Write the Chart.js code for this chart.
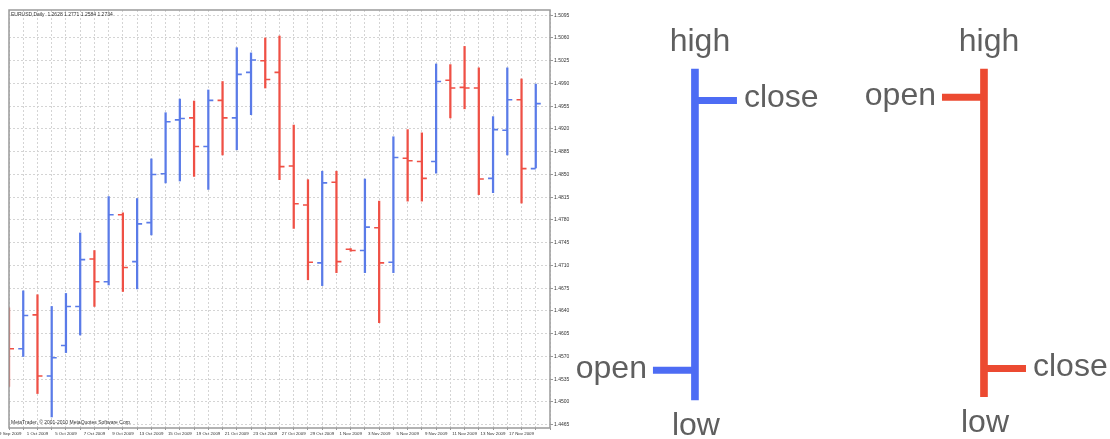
<!DOCTYPE html>
<html>
<head>
<meta charset="utf-8">
<script src="https://cdn.jsdelivr.net/npm/chart.js@4.4.0/dist/chart.umd.min.js"></script>
<style>
  html, body { margin: 0; padding: 0; background: #fff; }
  #wrap { position: relative; width: 1110px; height: 439px; overflow: hidden; background: #fff; }
  #bars { position: absolute; left: 0; top: 0; }
  #legend { position: absolute; left: 575px; top: 0; }
</style>
</head>
<body>
<div id="wrap">
  <canvas id="bars" width="575" height="439"></canvas>
  <canvas id="legend" width="535" height="439"></canvas>
</div>
<script>
// EURUSD daily bars
var dates = ['29 Sep 2009', '30 Sep 2009', '1 Oct 2009', '2 Oct 2009', '5 Oct 2009', '6 Oct 2009',
  '7 Oct 2009', '8 Oct 2009', '9 Oct 2009', '12 Oct 2009', '13 Oct 2009', '14 Oct 2009',
  '15 Oct 2009', '16 Oct 2009', '19 Oct 2009', '20 Oct 2009', '21 Oct 2009', '22 Oct 2009',
  '23 Oct 2009', '26 Oct 2009', '27 Oct 2009', '28 Oct 2009', '29 Oct 2009', '30 Oct 2009',
  '1 Nov 2009', '2 Nov 2009', '3 Nov 2009', '4 Nov 2009', '5 Nov 2009', '6 Nov 2009',
  '9 Nov 2009', '10 Nov 2009', '11 Nov 2009', '12 Nov 2009', '13 Nov 2009', '16 Nov 2009',
  '17 Nov 2009', '18 Nov 2009'];
var opens = [1.4630, 1.4582, 1.4634, 1.4540, 1.4587, 1.4647, 1.4720, 1.4685, 1.4788, 1.4716,
  1.4776, 1.4851, 1.4934, 1.4937, 1.4893, 1.4964, 1.4937, 1.5007, 1.5025, 1.5007,
  1.4863, 1.4803, 1.4714, 1.4838, 1.4735, 1.4733, 1.4768, 1.4715, 1.4875, 1.4870,
  1.4870, 1.4995, 1.4984, 1.4983, 1.4844, 1.4918, 1.4965, 1.4859];
var highs = [1.4645, 1.4671, 1.4665, 1.4647, 1.4667, 1.4760, 1.4733, 1.4816, 1.4791, 1.4813,
  1.4874, 1.4945, 1.4966, 1.4963, 1.4980, 1.4993, 1.5045, 1.5037, 1.5060, 1.5063,
  1.4926, 1.4842, 1.4855, 1.4855, 1.4736, 1.4843, 1.4809, 1.4908, 1.4919, 1.4914,
  1.5020, 1.5019, 1.5047, 1.5014, 1.4939, 1.5014, 1.4997, 1.4989];
var lows = [1.4524, 1.4570, 1.4513, 1.4477, 1.4576, 1.4603, 1.4647, 1.4680, 1.4670, 1.4674,
  1.4757, 1.4837, 1.4840, 1.4847, 1.4827, 1.4880, 1.4888, 1.4942, 1.4983, 1.4842,
  1.4767, 1.4688, 1.4679, 1.4699, 1.4732, 1.4699, 1.4622, 1.4699, 1.4809, 1.4809,
  1.4852, 1.4937, 1.4951, 1.4819, 1.4822, 1.4880, 1.4806, 1.4860];
var closes = [1.4582, 1.4633, 1.4540, 1.4568, 1.4647, 1.4719, 1.4685, 1.4788, 1.4707, 1.4774,
  1.4850, 1.4931, 1.4936, 1.4893, 1.4964, 1.4937, 1.5004, 1.5026, 1.4996, 1.4862,
  1.4805, 1.4715, 1.4837, 1.4716, 1.4733, 1.4769, 1.4714, 1.4876, 1.4871, 1.4844,
  1.4993, 1.4983, 1.4983, 1.4843, 1.4919, 1.4965, 1.4859, 1.4959];
var priceTicks = [1.4465, 1.4500, 1.4535, 1.4570, 1.4605, 1.4640, 1.4675, 1.4710, 1.4745,
  1.4780, 1.4815, 1.4850, 1.4885, 1.4920, 1.4955, 1.4990, 1.5025, 1.5060, 1.5095];

// the explanation bars on the right (arbitrary units)
var legendKinds = ['bull', 'bear'];
var legendOpen = [9, 91.5];
var legendHigh = [100, 100];
var legendLow = [0, 1];
var legendClose = [90.5, 9.5];

var upColor = '#5a7be8';
var downColor = '#ef5045';
var upColorBig = '#4d6cf4';
var downColorBig = '#ec4a31';

function barColors(o, c, up, down) {
  return o.map(function(v, i) { return c[i] >= v ? up : down; });
}

// open tick to the left, close tick to the right
function ohlcTicks(o, c, len, width, up, down) {
  return {
    id: 'ohlcTicks',
    afterDatasetsDraw: function(chart) {
      var ctx = chart.ctx, xs = chart.scales.x, ys = chart.scales.y, a = chart.chartArea;
      ctx.save();
      ctx.beginPath();
      ctx.rect(a.left, a.top, a.right - a.left, a.bottom - a.top);
      ctx.clip();
      ctx.lineWidth = width;
      ctx.lineCap = 'butt';
      for (var i = 0; i < o.length; i++) {
        var x = xs.getPixelForValue(i);
        var yo = ys.getPixelForValue(o[i]);
        var yc = ys.getPixelForValue(c[i]);
        ctx.strokeStyle = c[i] >= o[i] ? up : down;
        ctx.beginPath();
        ctx.moveTo(x - len, yo); ctx.lineTo(x, yo);
        ctx.moveTo(x, yc); ctx.lineTo(x + len, yc);
        ctx.stroke();
      }
      ctx.restore();
    }
  };
}

var frame = {
  id: 'frame',
  afterDraw: function(chart) {
    var ctx = chart.ctx, a = chart.chartArea;
    ctx.save();
    ctx.strokeStyle = '#9a9a9a';
    ctx.lineWidth = 1.5;
    ctx.strokeRect(a.left, a.top, a.right - a.left, a.bottom - a.top);
    ctx.fillStyle = '#333';
    ctx.font = '5px "Liberation Sans", Arial, sans-serif';
    ctx.textBaseline = 'middle';
    ctx.fillText('EURUSD,Daily  1.2628 1.2771 1.2584 1.2734', a.left + 2, a.top + 5);
    ctx.fillText('MetaTrader, \u00a9 2001-2010 MetaQuotes Software Corp.', a.left + 2, a.bottom - 5);
    ctx.restore();
  }
};

var smallFont = { family: '"Liberation Sans", Arial, sans-serif', size: 5 };

new Chart(document.getElementById('bars').getContext('2d'), {
  type: 'bar',
  data: {
    labels: dates.concat(['']),
    datasets: [{
      data: lows.map(function(l, i) { return [l, highs[i]]; }),
      backgroundColor: barColors(opens, closes, upColor, downColor),
      barThickness: 1.6,
      borderWidth: 0
    }]
  },
  options: {
    responsive: false,
    animation: false,
    layout: { padding: { left: 9, top: 10, right: 0, bottom: 0 } },
    plugins: { legend: { display: false }, tooltip: { enabled: false } },
    scales: {
      x: {
        offset: false,
        grid: { offset: false, color: '#d4d4d4', tickLength: 2, tickColor: '#999' },
        border: { display: false, dash: [2, 2] },
        ticks: {
          autoSkip: false, maxRotation: 0, minRotation: 0, padding: 1,
          color: '#333', font: { family: '"Liberation Sans", Arial, sans-serif', size: 4.4 },
          callback: function(v, i) { return (i % 2 === 0 && i < dates.length) ? dates[i] : ''; }
        },
        afterFit: function(s) { s.height = 11; s.paddingLeft = 0; s.paddingRight = 0; }
      },
      y: {
        position: 'right',
        min: 1.4460,
        max: 1.5103,
        afterBuildTicks: function(s) { s.ticks = priceTicks.map(function(v) { return { value: v }; }); },
        grid: { color: '#d4d4d4', tickLength: 3, tickColor: '#999' },
        border: { display: false, dash: [2, 2] },
        ticks: {
          autoSkip: false, padding: 1, color: '#333', font: smallFont,
          callback: function(v) { return Number(v).toFixed(4); }
        },
        afterFit: function(s) { s.width = 25; s.paddingTop = 0; s.paddingBottom = 0; }
      }
    }
  },
  plugins: [ohlcTicks(opens, closes, 5, 1.6, upColor, downColor), frame]
});

// labels for the explanation bars
var legendText = {
  id: 'legendText',
  afterDatasetsDraw: function(chart) {
    var ctx = chart.ctx, xs = chart.scales.x, ys = chart.scales.y;
    ctx.save();
    ctx.fillStyle = '#5f5f5f';
    ctx.font = '32px "Liberation Sans", Arial, sans-serif';
    ctx.textBaseline = 'alphabetic';
    for (var i = 0; i < legendKinds.length; i++) {
      var x = xs.getPixelForValue(i);
      ctx.textAlign = 'center';
      ctx.fillText('high', x + 5, ys.getPixelForValue(legendHigh[i]) - 18);
      ctx.fillText('low', x + 1, ys.getPixelForValue(legendLow[i]) + 35);
      ctx.textAlign = 'right';
      ctx.fillText('open', x - 42 - 6, ys.getPixelForValue(legendOpen[i]) + 8);
      ctx.textAlign = 'left';
      ctx.fillText('close', x + 42 + 7, ys.getPixelForValue(legendClose[i]) + 7);
    }
    ctx.restore();
  }
};

new Chart(document.getElementById('legend').getContext('2d'), {
  type: 'bar',
  data: {
    datasets: [{
      data: legendKinds.map(function(k, i) { return { x: i, y: [legendLow[i], legendHigh[i]] }; }),
      backgroundColor: barColors(legendOpen, legendClose, upColorBig, downColorBig),
      barThickness: 7,
      borderWidth: 0
    }]
  },
  options: {
    responsive: false,
    animation: false,
    layout: { padding: 0 },
    plugins: { legend: { display: false }, tooltip: { enabled: false } },
    scales: {
      x: { type: 'linear', display: false, min: -0.415, max: 1.436, offset: false },
      y: { display: false, min: -11.8, max: 120.85 }
    }
  },
  plugins: [ohlcTicks(legendOpen, legendClose, 42, 7, upColorBig, downColorBig), legendText]
});
</script>
</body>
</html>
